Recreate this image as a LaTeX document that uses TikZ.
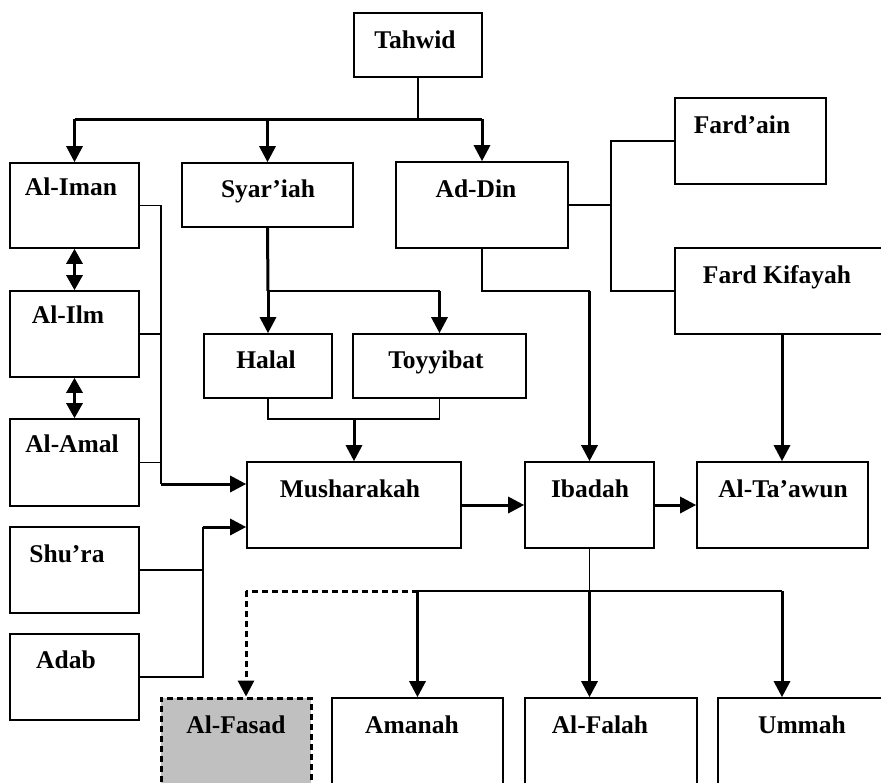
\documentclass[tikz,border=0pt]{standalone}
\usepackage{fontspec}
\setmainfont{Liberation Serif}
\usetikzlibrary{arrows.meta}
\tikzset{
  box/.style={draw,line width=1.6pt,inner sep=0pt},
  lbl/.style={anchor=base,inner sep=0pt,font=\fontsize{25.5pt}{30pt}\selectfont\bfseries},
  thn/.style={line width=1.6pt},
  thk/.style={line width=3pt},
  arr/.style={thk,-{Triangle[width=16pt,length=16pt]}},
  arr2/.style={thk,{Triangle[width=16pt,length=15pt]}-{Triangle[width=16pt,length=15pt]}},
}
\begin{document}
\begin{tikzpicture}[x=1pt,y=-1pt]
\useasboundingbox (0,0) rectangle (881,782);
\clip (0,0) rectangle (881,782);

\node[box,minimum width=128pt,minimum height=64pt] (tahwid) at (418,45) {};
\node[box,minimum width=129pt,minimum height=85pt] (iman) at (74.5,205.5) {};
\node[box,minimum width=129pt,minimum height=86pt] (ilm) at (74.5,334) {};
\node[box,minimum width=129pt,minimum height=87pt] (amal) at (74.5,462.5) {};
\node[box,minimum width=129pt,minimum height=86pt] (shura) at (74.5,570) {};
\node[box,minimum width=129pt,minimum height=86pt] (adab) at (74.5,677) {};
\node[box,minimum width=171pt,minimum height=64pt] (syariah) at (267.5,195) {};
\node[box,minimum width=172pt,minimum height=86pt] (addin) at (482,205) {};
\node[box,minimum width=151pt,minimum height=86pt] (fardain) at (750.5,141) {};
\node[box,minimum width=214pt,minimum height=86pt] (kifayah) at (782,291) {};
\node[box,minimum width=128pt,minimum height=64pt] (halal) at (268,366) {};
\node[box,minimum width=173pt,minimum height=64pt] (toyyibat) at (439.5,366) {};
\node[box,minimum width=214pt,minimum height=86pt] (mush) at (354,505) {};
\node[box,minimum width=129pt,minimum height=86pt] (ibadah) at (589.5,505) {};
\node[box,minimum width=171pt,minimum height=86pt] (taawun) at (782.5,505) {};
\node[box,line width=3pt,dash pattern=on 6pt off 4pt,fill={rgb,255:red,192;green,192;blue,192},minimum width=150pt,minimum height=102pt] (fasad) at (236,749) {};
\node[box,minimum width=171pt,minimum height=102pt] (amanah) at (417.5,749) {};
\node[box,minimum width=172pt,minimum height=102pt] (falah) at (611,749) {};
\node[box,minimum width=182pt,minimum height=102pt] (ummah) at (809,749) {};

\node[lbl] (tahwid-l) at (415,48) {Tahwid};
\node[lbl] (iman-l) at (71,195) {Al-Iman};
\node[lbl] (ilm-l) at (68,323) {Al-Ilm};
\node[lbl] (amal-l) at (72,452) {Al-Amal};
\node[lbl] (shura-l) at (67,562) {Shu’ra};
\node[lbl] (adab-l) at (66,668) {Adab};
\node[lbl] (syariah-l) at (268,197) {Syar’iah};
\node[lbl] (halal-l) at (266,368) {Halal};
\node[lbl] (toyyibat-l) at (436,368) {Toyyibat};
\node[lbl] (addin-l) at (476,197) {Ad-Din};
\node[lbl] (fardain-l) at (742,133) {Fard’ain};
\node[lbl] (kifayah-l) at (777,283) {Fard Kifayah};
\node[lbl] (mush-l) at (350,497) {Musharakah};
\node[lbl] (ibadah-l) at (590,497) {Ibadah};
\node[lbl] (taawun-l) at (783,497) {Al-Ta’awun};
\node[lbl] (fasad-l) at (236,733) {Al-Fasad};
\node[lbl] (amanah-l) at (412,733) {Amanah};
\node[lbl] (falah-l) at (600,733) {Al-Falah};
\node[lbl] (ummah-l) at (802,733) {Ummah};

\coordinate (top) at (418,119);
\coordinate (bus1) at (161,484);
\coordinate (bus2) at (203,527);
\coordinate (sy) at (268,291);
\coordinate (ht) at (354,419);
\coordinate (fd) at (611,205);
\coordinate (ai) at (589.5,291);
\coordinate (ib) at (589.5,591);
\coordinate (um) at (782,591);
\coordinate (fs) at (246,591);

\draw[thn] (tahwid.south) -- (top);
\draw[thk] (iman.north |- top) -- (addin.north |- top);
\draw[arr] (iman.north |- top) -- (iman.north);
\draw[arr] (syariah.north |- top) -- (syariah.north);
\draw[arr] (addin.north |- top) -- (addin.north);

\draw[arr2] (iman) -- (ilm);
\draw[arr2] (ilm) -- (amal);

\draw[thn] (iman.east) -| (bus1);
\draw[thn] (ilm.east) -- (ilm.east -| bus1);
\draw[thn] (amal.east) -- (amal.east -| bus1);
\draw[arr] (bus1) -- (bus1 -| mush.west);
\draw[thn] (adab.east) -| (bus2);
\draw[thn] (shura.east) -- (shura.east -| bus2);
\draw[arr] (bus2) -- (bus2 -| mush.west);

\draw[thk] (syariah.south) -- (sy);
\draw[thn] (sy) -- (sy -| toyyibat.north);
\draw[arr] (sy) -- (halal.north);
\draw[arr] (sy -| toyyibat.north) -- (toyyibat.north);
\draw[thn] (halal.south) -- (halal.south |- ht) -- (toyyibat.south |- ht) -- (toyyibat.south);
\draw[arr] (ht) -- (mush.north);

\draw[thn] (addin.east) -- (fd);
\draw[thn] (fardain.west) -| (fd) |- (kifayah.west);
\draw[thn] (addin.south) |- (ai);
\draw[arr] (ai) -- (ibadah.north);
\draw[arr] (kifayah.south) -- (kifayah.south |- taawun.north);

\draw[arr] (mush) -- (ibadah);
\draw[arr] (ibadah) -- (taawun);

\draw[thn] (ibadah.south) -- (ib);
\draw[thn] (amanah.north |- ib) -- (um);
\draw[arr] (amanah.north |- ib) -- (amanah.north);
\draw[arr] (ib) -- (ib |- falah.north);
\draw[arr] (um) -- (um |- ummah.north);
\draw[thk,dash pattern=on 6pt off 4pt] (amanah.north |- ib) -- (fs);
\draw[arr,dash pattern=on 6pt off 4pt] (fs) -- (fs |- fasad.north);
\end{tikzpicture}
\end{document}
